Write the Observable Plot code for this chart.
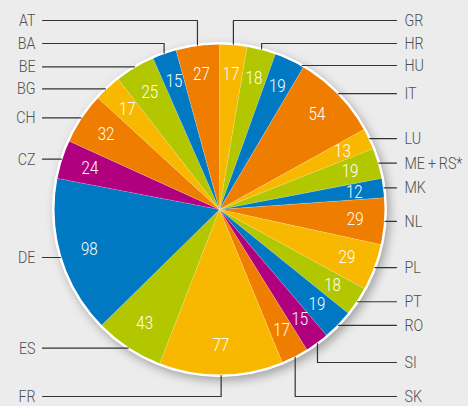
<!DOCTYPE html>
<html><head><meta charset="utf-8">
<script src="https://cdn.jsdelivr.net/npm/d3@7"></script>
<script src="https://cdn.jsdelivr.net/npm/@observablehq/plot@0.6"></script>
<style>
html,body{margin:0;padding:0;background:#ebeceb;}
</style></head><body><div id="chart"></div>
<script>
// ---------- DATA (clockwise from 12 o'clock) ----------
const countries = ["GR","HR","HU","IT","LU","ME\u2009+\u2009RS*","MK","NL","PL","PT","RO","SI","SK","FR","ES","DE","CZ","CH","BG","BE","BA","AT"];
const values    = [17,18,19,54,13,19,12,29,29,18,19,15,17,77,43,98,24,32,17,25,15,27];

// ---------- STYLE ----------
const palette = {orange:"#ee7d00", yellow:"#f9b800", green:"#b2c700", blue:"#0079c2", magenta:"#b0007f"};
const sliceColors = ["yellow","green","blue","orange","yellow","green","blue","orange","yellow","green","blue","magenta","orange","yellow","green","blue","magenta","orange","yellow","green","blue","orange"];
const FONT = "Roboto, 'Liberation Sans', sans-serif";
const CONDENSE = 0.84;

// ---------- LAYOUT ----------
const W = 468, H = 406, cx = 219, cy = 209, R = 166, labelR = 136;
const leftTextX = 35, rightTextX = 404, leftLineX = 42, rightLineX = 396;
const topRows = [20, 43], bottomRows = [396, 362], minGap = 22;

const pie = d3.pie().sort(null).value(d => d)(values);
const pt = (a, r) => ({x: cx + r * Math.sin(a), y: cy - r * Math.cos(a)});
const deg = a => a * 180 / Math.PI;

const slices = pie.map((p, i) => {
  const mid = (p.startAngle + p.endAngle) / 2;
  return {country: countries[i], value: values[i], a0: p.startAngle, a1: p.endAngle, mid,
          color: palette[sliceColors[i]], ...pt(mid, labelR)};
});

// slice polygons
const polys = [];
for (const s of slices) {
  polys.push({country: s.country, color: s.color, x: cx, y: cy});
  const n = Math.max(2, Math.ceil(deg(s.a1 - s.a0) / 0.5));
  for (let k = 0; k <= n; k++) {
    const a = s.a0 + (s.a1 - s.a0) * k / n;
    polys.push({country: s.country, color: s.color, ...pt(a, R)});
  }
}

// labels & leader lines
const labels = [], leaders = [];
function place(side) {
  const list = slices.filter(s => side === "right" ? deg(s.mid) < 178 : deg(s.mid) >= 178);
  const elbowTop = list.filter(s => { const d = deg(s.mid); return d < 20 || d > 340; })
    .sort((a, b) => Math.min(deg(a.mid), 360 - deg(a.mid)) - Math.min(deg(b.mid), 360 - deg(b.mid)));
  const elbowBot = list.filter(s => { const d = deg(s.mid); return d > 140 && d < 200; })
    .sort((a, b) => Math.abs(deg(a.mid) - 180) - Math.abs(deg(b.mid) - 180));
  elbowTop.forEach((s, i) => { s.ly = topRows[i]; s.elbow = true; });
  elbowBot.forEach((s, i) => { s.ly = bottomRows[i]; s.elbow = true; });
  list.forEach(s => { if (!s.elbow) s.ly = pt(s.mid, R).y; });
  list.sort((a, b) => a.ly - b.ly);
  for (let i = 1; i < list.length; i++) {
    if (!list[i].elbow && list[i].ly < list[i - 1].ly + minGap) list[i].ly = list[i - 1].ly + minGap;
  }
  const lineX = side === "right" ? rightLineX : leftLineX;
  for (const s of list) {
    labels.push({side, text: s.country, x: side === "right" ? rightTextX : leftTextX, y: s.ly});
    if (s.elbow) {
      const e = pt(s.mid, R);
      leaders.push({country: s.country, x: e.x, y: e.y});
      leaders.push({country: s.country, x: e.x, y: s.ly});
      leaders.push({country: s.country, x: lineX, y: s.ly});
    } else {
      const dx = Math.sqrt(Math.max(0, R * R - (s.ly - cy) ** 2));
      leaders.push({country: s.country, x: cx + (side === "right" ? dx : -dx), y: s.ly});
      leaders.push({country: s.country, x: lineX, y: s.ly});
    }
  }
}
place("right"); place("left");

const chart = Plot.plot({
  width: W, height: H, margin: 0,
  x: {domain: [0, W], range: [0, W], axis: null},
  y: {domain: [0, H], range: [0, H], axis: null},
  color: {type: "identity"},
  style: {background: "#ebeceb", fontFamily: FONT, overflow: "visible"},
  marks: [
    Plot.dot([{x: cx, y: cy}], {x: "x", y: "y", r: R + 1.5, fill: "white", stroke: "none"}),
    Plot.line(polys, {x: "x", y: "y", z: "country", fill: "color", stroke: "white", strokeOpacity: 0.3, strokeWidth: 0.6, curve: "linear-closed"}),
    Plot.dot([{x: cx, y: cy}], {x: "x", y: "y", r: R, fill: "none", stroke: "white", strokeWidth: 2}),
    Plot.text(slices, {x: "x", y: "y", text: d => String(d.value), fill: "white", fontSize: 18, fontWeight: 300, fontFamily: FONT}),
    Plot.line(leaders, {x: "x", y: "y", z: "country", stroke: "#333", strokeWidth: 1.2, curve: "linear"}),
    Plot.text(labels.filter(d => d.side === "left"), {x: "x", y: "y", text: "text", textAnchor: "end", fill: "#4f4f4f", fontSize: 17, fontWeight: 300, fontFamily: FONT}),
    Plot.text(labels.filter(d => d.side === "right"), {x: "x", y: "y", text: "text", textAnchor: "start", fill: "#4f4f4f", fontSize: 17, fontWeight: 300, fontFamily: FONT})
  ]
});
// soft drop shadow under the pie
const g = chart.querySelector('g[aria-label="dot"]');
if (g) g.style.filter = "drop-shadow(3px 4px 5px rgba(0,0,0,0.3))";
// condensed look for all texts
chart.querySelectorAll("text").forEach(t => {
  const tr = t.getAttribute("transform");
  if (tr) {
    t.setAttribute("transform", tr + ` scale(${CONDENSE},1)`);
  } else {
    const x = +t.getAttribute("x") || 0, y = +t.getAttribute("y") || 0;
    t.removeAttribute("x"); t.removeAttribute("y");
    t.setAttribute("transform", `translate(${x},${y}) scale(${CONDENSE},1)`);
  }
});
document.getElementById("chart").appendChild(chart);
</script></body></html>
